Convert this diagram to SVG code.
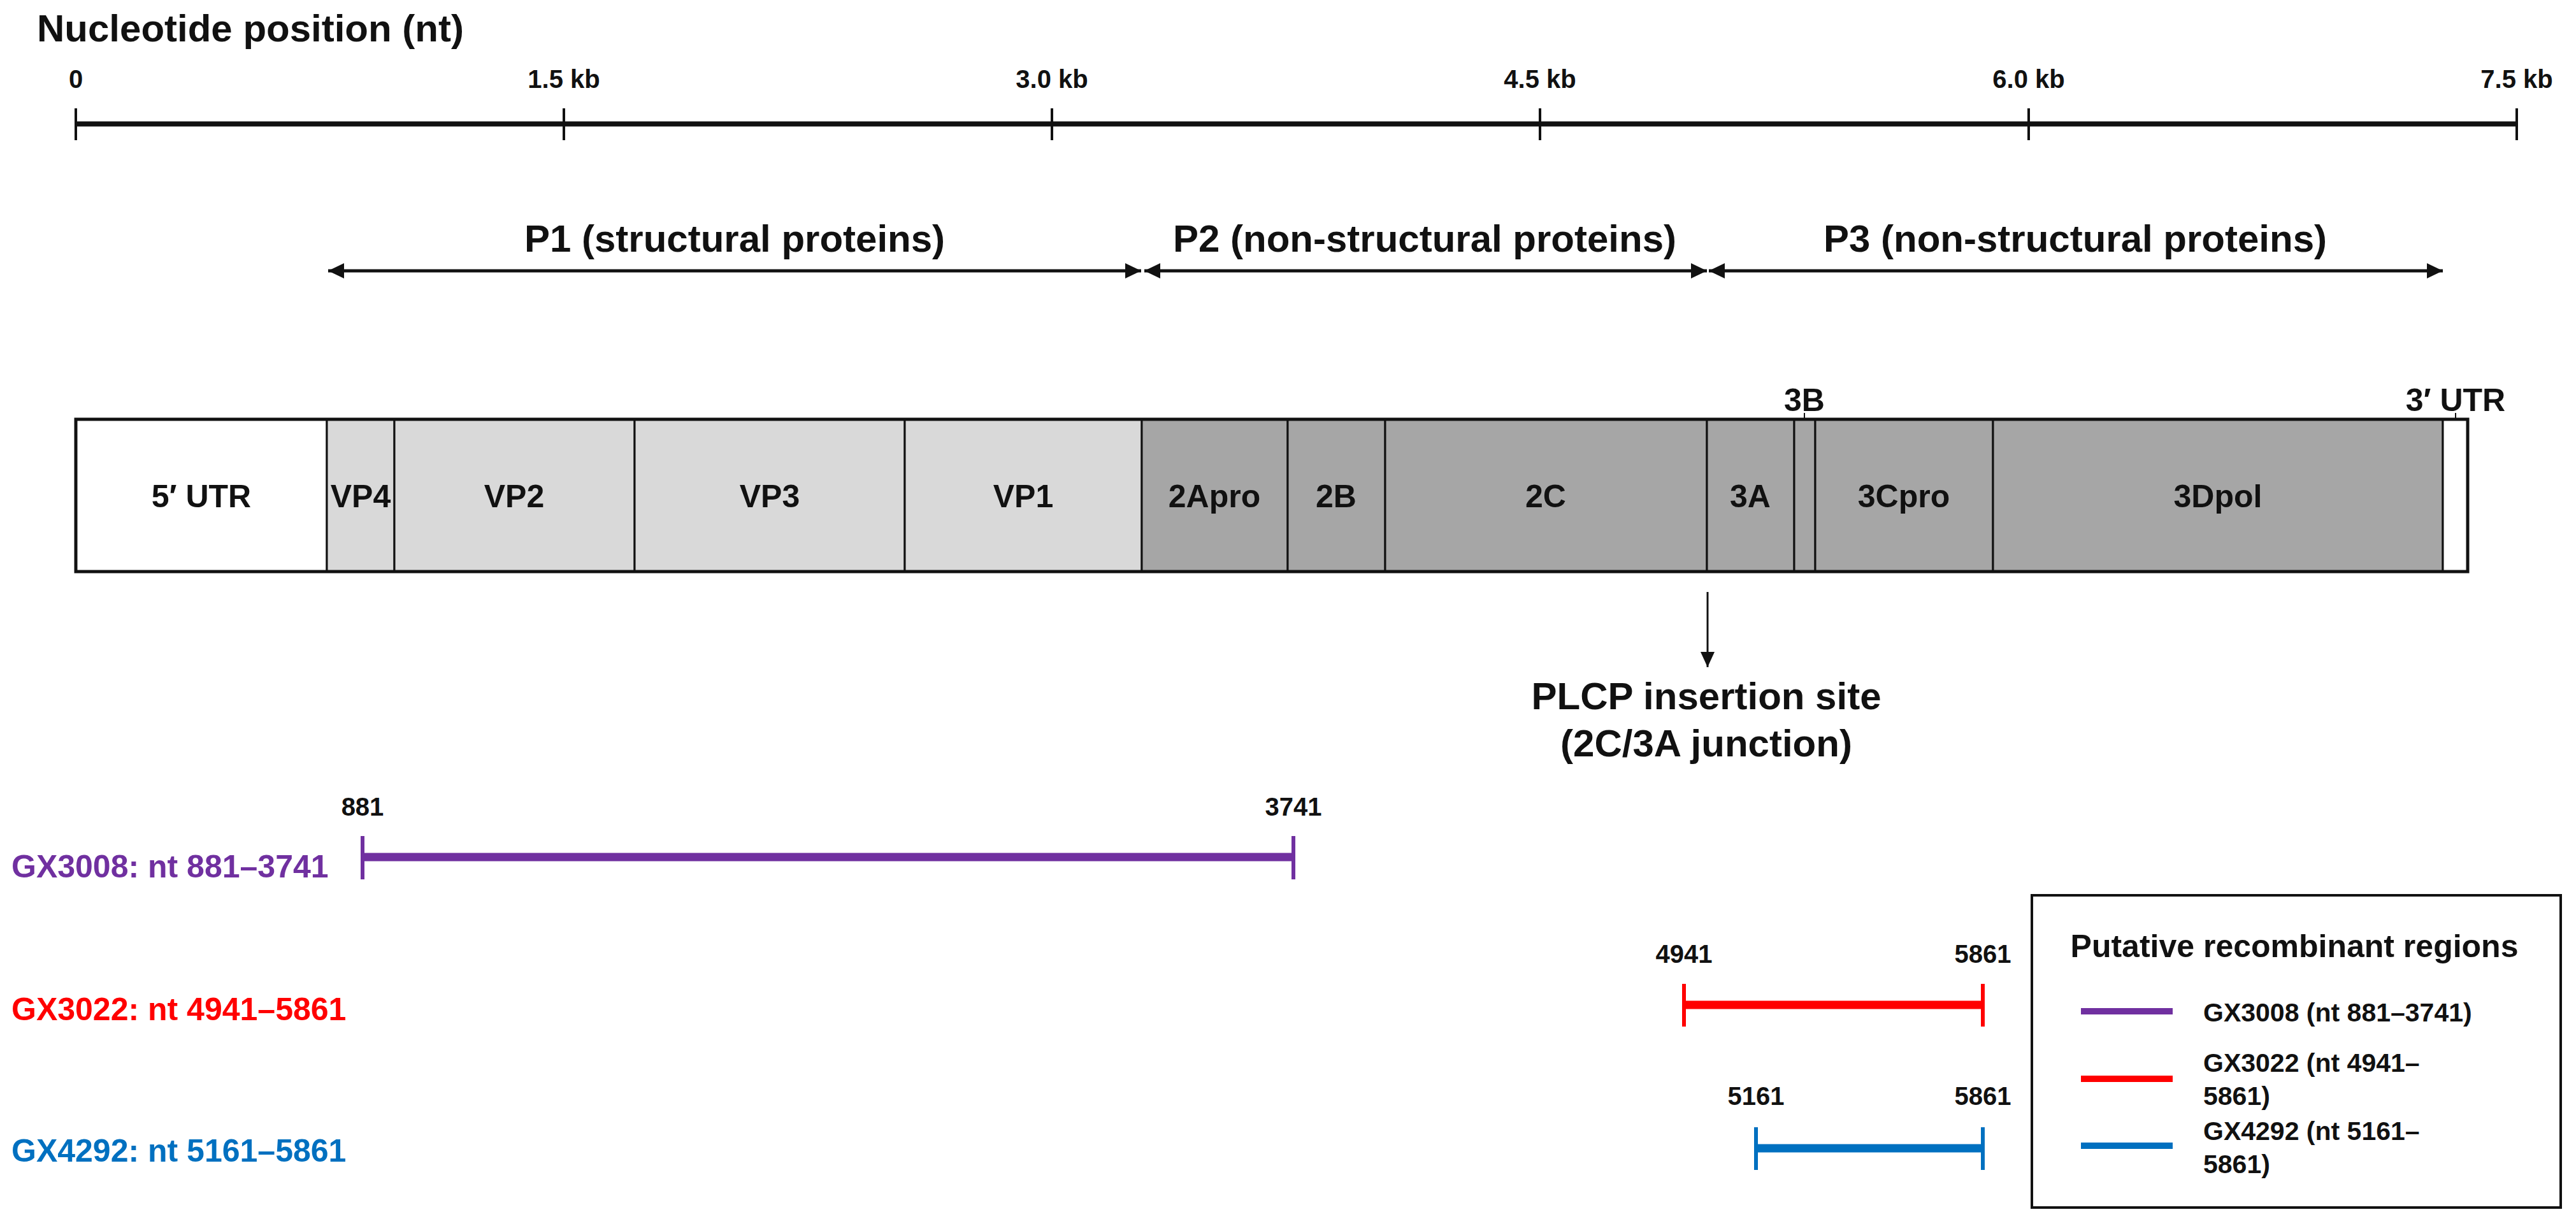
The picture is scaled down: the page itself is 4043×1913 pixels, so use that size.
<svg xmlns="http://www.w3.org/2000/svg" width="4043" height="1913" viewBox="0 0 4043 1913">
<style>
text{font-family:"Liberation Sans",Arial,Helvetica,sans-serif;font-weight:bold;fill:#111}
.title{font-size:60px}
.tick{font-size:40px;text-anchor:middle}
.region{font-size:60px;text-anchor:middle}
.seglbl{font-size:50px;text-anchor:middle}
.seg{stroke:#111;stroke-width:3}
.light{fill:#d9d9d9}
.dark{fill:#a6a6a6}
.white{fill:#ffffff}
.axis{stroke:#111;stroke-width:8}
.axtick{stroke:#111;stroke-width:4}
.arrow{stroke:#111;stroke-width:5;fill:none}
.num{font-size:40px;text-anchor:middle}
.gx{font-size:50px}
.purple{stroke:#7030a0;fill:#7030a0}
.red{stroke:#ff0000;fill:#ff0000}
.blue{stroke:#0070c0;fill:#0070c0}
.rbar{stroke-width:13}
.rtick{stroke-width:6}
.leg{font-size:41px}
</style>
<defs>
<marker id="ah" markerUnits="userSpaceOnUse" markerWidth="26" markerHeight="26" refX="25" refY="12" orient="auto-start-reverse">
<path d="M0,0 L25,12 L0,24 z" fill="#111"/>
</marker>
<marker id="ahs" markerUnits="userSpaceOnUse" markerWidth="24" markerHeight="24" refX="24" refY="11" orient="auto">
<path d="M0,0 L24,11 L0,22 z" fill="#111"/>
</marker>
</defs>

<g id="axis">
<text class="title" x="58" y="65">Nucleotide position (nt)</text>
<line class="axis" x1="119" y1="194.5" x2="3950" y2="194.5"/>
<line class="axtick" x1="119" y1="170" x2="119" y2="220"/>
<line class="axtick" x1="885" y1="170" x2="885" y2="220"/>
<line class="axtick" x1="1651" y1="170" x2="1651" y2="220"/>
<line class="axtick" x1="2417" y1="170" x2="2417" y2="220"/>
<line class="axtick" x1="3184" y1="170" x2="3184" y2="220"/>
<line class="axtick" x1="3950" y1="170" x2="3950" y2="220"/>
<text class="tick" x="119" y="138">0</text>
<text class="tick" x="885" y="138">1.5 kb</text>
<text class="tick" x="1651" y="138">3.0 kb</text>
<text class="tick" x="2417" y="138">4.5 kb</text>
<text class="tick" x="3184" y="138">6.0 kb</text>
<text class="tick" x="3950" y="138">7.5 kb</text>
</g>

<g id="P1"><text class="region" x="1153" y="395">P1 (structural proteins)</text></g>
<g id="P2"><text class="region" x="2236" y="395">P2 (non-structural proteins)</text></g>
<g id="P3"><text class="region" x="3257" y="395">P3 (non-structural proteins)</text></g>

<g id="genome">
<g id="seg-5UTR"><rect class="seg white" x="119" y="658" width="394" height="239"/><text class="seglbl" x="316" y="796">5′ UTR</text></g>
<g id="seg-VP4"><rect class="seg light" x="513" y="658" width="106" height="239"/><text class="seglbl" x="566" y="796">VP4</text></g>
<g id="seg-VP2"><rect class="seg light" x="619" y="658" width="377" height="239"/><text class="seglbl" x="807" y="796">VP2</text></g>
<g id="seg-VP3"><rect class="seg light" x="996" y="658" width="424" height="239"/><text class="seglbl" x="1208" y="796">VP3</text></g>
<g id="seg-VP1"><rect class="seg light" x="1420" y="658" width="372" height="239"/><text class="seglbl" x="1606" y="796">VP1</text></g>
<g id="seg-2Apro"><rect class="seg dark" x="1792" y="658" width="229" height="239"/><text class="seglbl" x="1906" y="796">2Apro</text></g>
<g id="seg-2B"><rect class="seg dark" x="2021" y="658" width="153" height="239"/><text class="seglbl" x="2097" y="796">2B</text></g>
<g id="seg-2C"><rect class="seg dark" x="2174" y="658" width="505" height="239"/><text class="seglbl" x="2426" y="796">2C</text></g>
<g id="seg-3A"><rect class="seg dark" x="2679" y="658" width="137" height="239"/><text class="seglbl" x="2747" y="796">3A</text></g>
<g id="seg-3B"><rect class="seg dark" x="2816" y="658" width="33" height="239"/><line x1="2832" y1="648" x2="2832" y2="658" stroke="#111" stroke-width="2"/><text class="seglbl" x="2832" y="645">3B</text></g>
<g id="seg-3Cpro"><rect class="seg dark" x="2849" y="658" width="279" height="239"/><text class="seglbl" x="2988" y="796">3Cpro</text></g>
<g id="seg-3Dpol"><rect class="seg dark" x="3128" y="658" width="706" height="239"/><text class="seglbl" x="3481" y="796">3Dpol</text></g>
<g id="seg-3UTR"><rect class="seg white" x="3834" y="658" width="39" height="239"/><line x1="3854" y1="648" x2="3854" y2="658" stroke="#111" stroke-width="2"/><text class="seglbl" x="3854" y="645">3′ UTR</text></g>
<rect x="119" y="658" width="3754" height="239" fill="none" stroke="#111" stroke-width="5"/>
</g>

<g id="plcp">
<text class="region" x="2678" y="1113">PLCP insertion site</text>
<text class="region" x="2678" y="1187">(2C/3A junction)</text>
</g>

<g id="connectors">
<line class="arrow" x1="515" y1="425" x2="1791" y2="425" marker-start="url(#ah)" marker-end="url(#ah)"/>
<line class="arrow" x1="1796" y1="425" x2="2679" y2="425" marker-start="url(#ah)" marker-end="url(#ah)"/>
<line class="arrow" x1="2682" y1="425" x2="3834" y2="425" marker-start="url(#ah)" marker-end="url(#ah)"/>
<line x1="2680" y1="929" x2="2680" y2="1047" stroke="#111" stroke-width="3" marker-end="url(#ahs)"/>
</g>

<g id="gx3008">
<text class="gx" x="18" y="1377" style="fill:#7030a0">GX3008: nt 881–3741</text>
<line class="purple rbar" x1="569" y1="1345" x2="2030" y2="1345"/>
<line class="purple rtick" x1="569" y1="1312" x2="569" y2="1380"/>
<line class="purple rtick" x1="2030" y1="1312" x2="2030" y2="1380"/>
<text class="num" x="569" y="1280">881</text>
<text class="num" x="2030" y="1280">3741</text>
</g>

<g id="gx3022">
<text class="gx" x="18" y="1601" style="fill:#ff0000">GX3022: nt 4941–5861</text>
<line class="red rbar" x1="2643" y1="1577" x2="3112" y2="1577"/>
<line class="red rtick" x1="2643" y1="1544" x2="2643" y2="1611"/>
<line class="red rtick" x1="3112" y1="1544" x2="3112" y2="1611"/>
<text class="num" x="2643" y="1511">4941</text>
<text class="num" x="3112" y="1511">5861</text>
</g>

<g id="gx4292">
<text class="gx" x="18" y="1823" style="fill:#0070c0">GX4292: nt 5161–5861</text>
<line class="blue rbar" x1="2756" y1="1802" x2="3112" y2="1802"/>
<line class="blue rtick" x1="2756" y1="1769" x2="2756" y2="1836"/>
<line class="blue rtick" x1="3112" y1="1769" x2="3112" y2="1836"/>
<text class="num" x="2756" y="1734">5161</text>
<text class="num" x="3112" y="1734">5861</text>
</g>

<g id="legend">
<rect x="3189" y="1405" width="830" height="490" fill="#fff" stroke="#111" stroke-width="4"/>
<text x="3601" y="1502" style="font-size:50px;text-anchor:middle">Putative recombinant regions</text>
<line class="purple" x1="3266" y1="1587" x2="3410" y2="1587" stroke-width="10"/>
<text class="leg" x="3458" y="1603">GX3008 (nt 881–3741)</text>
<line class="red" x1="3266" y1="1693" x2="3410" y2="1693" stroke-width="10"/>
<text class="leg" x="3458" y="1682">GX3022 (nt 4941–</text>
<text class="leg" x="3458" y="1734">5861)</text>
<line class="blue" x1="3266" y1="1798" x2="3410" y2="1798" stroke-width="10"/>
<text class="leg" x="3458" y="1789">GX4292 (nt 5161–</text>
<text class="leg" x="3458" y="1841">5861)</text>
</g>
</svg>
